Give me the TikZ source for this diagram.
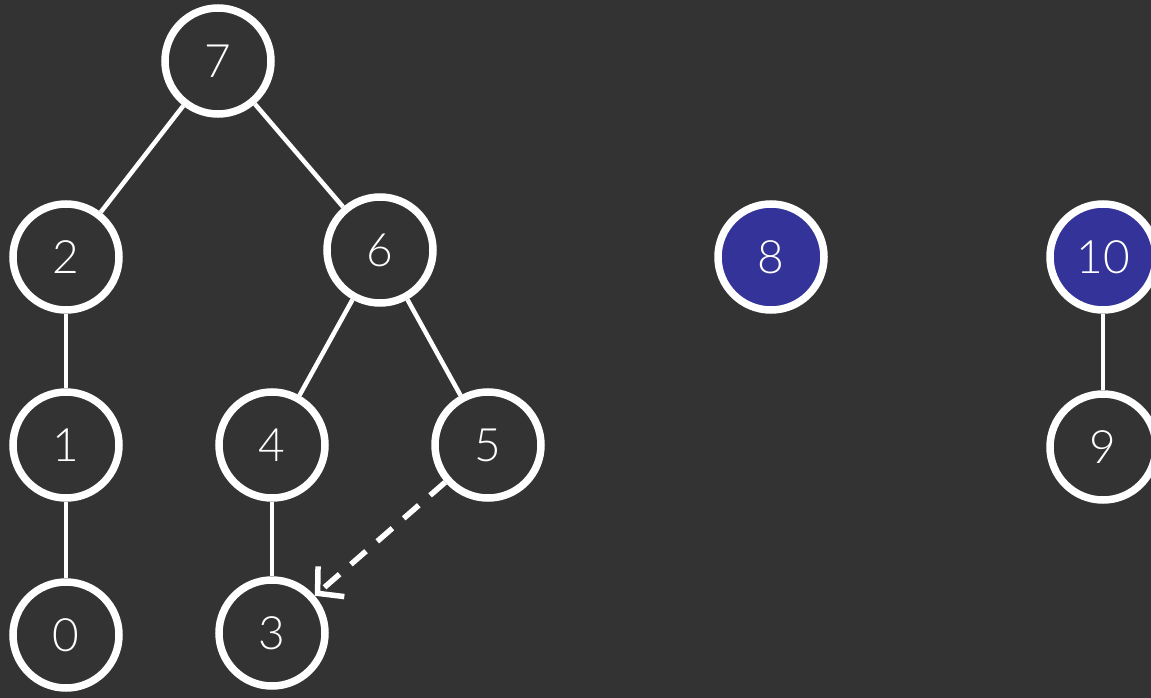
\documentclass[tikz,border=0pt]{standalone}
\usepackage{fontspec}
\setmainfont{Lato Light}
\usetikzlibrary{arrows.meta}
\definecolor{bg}{HTML}{333333}
\definecolor{hl}{HTML}{333399}
\begin{document}
\begin{tikzpicture}[x=1pt,y=-1pt,
  vtx/.style={circle,draw=white,line width=7.5pt,minimum size=106pt,inner sep=0pt,text=white,font=\fontsize{46}{46}\selectfont},
  hlvtx/.style={vtx,fill=hl},
  edge/.style={white,line width=4.5pt},
  ptr/.style={white,line width=5.5pt,dash pattern=on 20pt off 15pt,-{Straight Barb[length=18pt,width=40pt,line width=5.5pt]}}]
\fill[bg] (0,0) rectangle (1151,698);
\useasboundingbox (0,0) rectangle (1151,698);
\node[vtx] (n7) at (218,61) {7};
\node[vtx] (n2) at (66,257) {2};
\node[vtx] (n6) at (380,250) {6};
\node[vtx] (n1) at (66,445) {1};
\node[vtx] (n4) at (272,445) {4};
\node[vtx] (n5) at (488,445) {5};
\node[vtx] (n0) at (66,635) {0};
\node[vtx] (n3) at (272,633) {3};
\node[hlvtx] (n8) at (771,257) {8};
\node[hlvtx] (n10) at (1103,257) {10};
\node[vtx] (n9) at (1103,447) {9};
\draw[edge] (n7) -- (n2);
\draw[edge] (n7) -- (n6);
\draw[edge] (n2) -- (n1);
\draw[edge] (n1) -- (n0);
\draw[edge] (n6) -- (n4);
\draw[edge] (n6) -- (n5);
\draw[edge] (n4) -- (n3);
\draw[edge] (n10) -- (n9);
\draw[ptr] (n5) -- (n3);
\end{tikzpicture}
\end{document}
